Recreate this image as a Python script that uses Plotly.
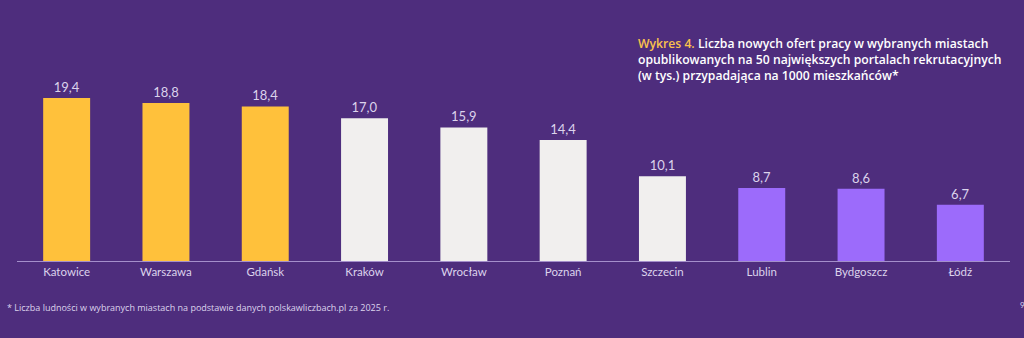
import plotly.graph_objects as go

cities = ["Katowice", "Warszawa", "Gdańsk", "Kraków", "Wrocław", "Poznań",
          "Szczecin", "Lublin", "Bydgoszcz", "Łódź"]
values = [19.4, 18.8, 18.4, 17.0, 15.9, 14.4, 10.1, 8.7, 8.6, 6.7]
groups = ["top", "top", "top", "mid", "mid", "mid", "mid", "low", "low", "low"]

group_colors = {"top": "#FFC13B", "mid": "#F1EFEE", "low": "#9C6BFB"}
BG = "#4E2D7D"
TXT = "#DCD3EC"

labels = [f"{v:.1f}".replace(".", ",") for v in values]

fig = go.Figure(go.Bar(
    x=cities, y=values,
    marker=dict(color=[group_colors[g] for g in groups], line=dict(width=0)),
    text=labels, textposition="outside", cliponaxis=False,
    textfont=dict(color=TXT, size=13, family="Lato"),
))

fig.update_layout(
    width=1024, height=338,
    paper_bgcolor=BG, plot_bgcolor=BG,
    margin=dict(l=17, r=14, t=51, b=77),
    bargap=0.527,
    showlegend=False,
    font=dict(family="Lato", color=TXT),
    xaxis=dict(showgrid=False, zeroline=False, showline=True, linecolor="#A48FCB",
               linewidth=1, ticks="", tickfont=dict(size=11.5, color=TXT)),
    yaxis=dict(visible=False, range=[0, 25], fixedrange=True),
)

fig.add_annotation(
    xref="paper", yref="paper", x=(636 - 17) / 993, y=1 + (51 - 33) / 210,
    xanchor="left", yanchor="top", align="left", showarrow=False,
    text=("<span style='color:#F9C24C'>Wykres 4.</span> Liczba nowych ofert pracy w wybranych miastach<br>"
          "opublikowanych na 50 największych portalach rekrutacyjnych<br>"
          "(w tys.) przypadająca na 1000 mieszkańców*"),
    font=dict(size=12.2, color="#FFFFFF", family="Open Sans", weight=600),
)

fig.add_annotation(
    xref="paper", yref="paper", x=-12 / 993, y=-(307 - 261) / 210,
    xanchor="left", yanchor="middle", showarrow=False,
    text="* Liczba ludności w wybranych miastach na podstawie danych polskawliczbach.pl za 2025 r.",
    font=dict(size=9, color=TXT, family="Open Sans"),
)
fig.add_annotation(
    xref="paper", yref="paper", x=(1018 - 17) / 993, y=-(305 - 261) / 210,
    xanchor="left", yanchor="middle", showarrow=False,
    text="9", font=dict(size=8, color=TXT, family="Lato"),
)

fig.write_html("out.html")
